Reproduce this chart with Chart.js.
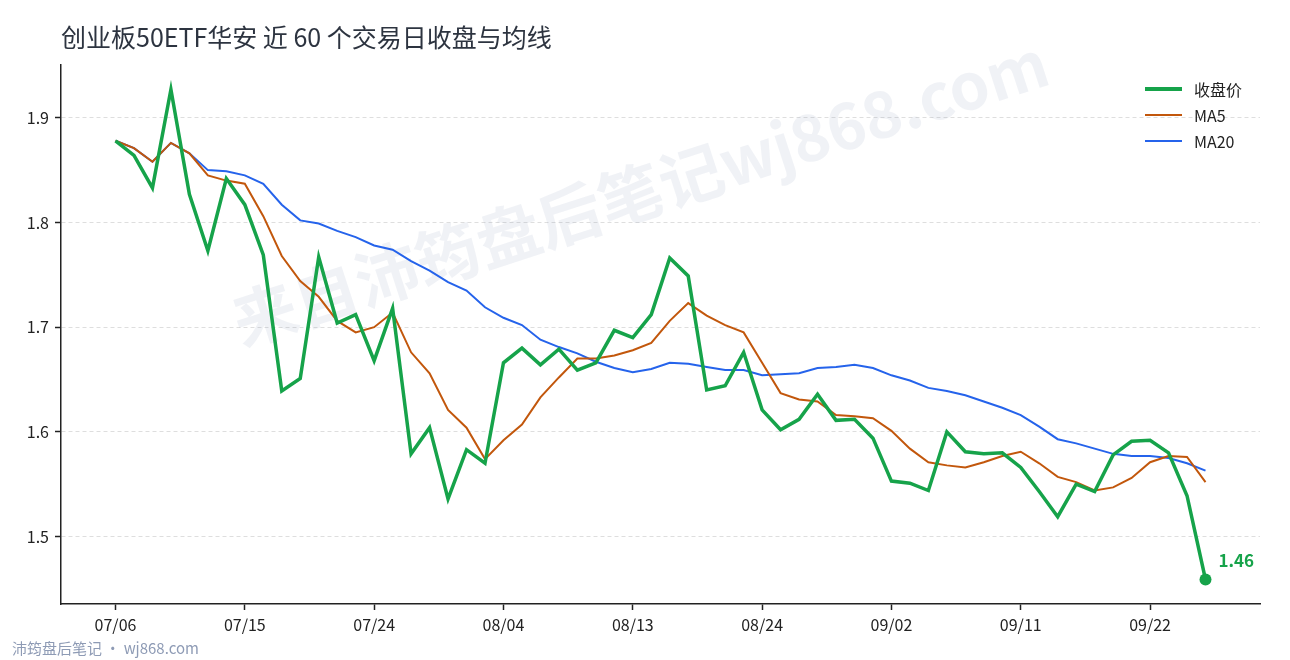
<!DOCTYPE html>
<html>
<head>
<meta charset="utf-8">
<script src="https://cdn.jsdelivr.net/npm/chart.js@4.4.1/dist/chart.umd.min.js"></script>
<style>
  html, body { margin: 0; padding: 0; background: #fff; }
  #wrap { width: 1290px; height: 660px; position: relative; }
</style>
</head>
<body>
<div id="wrap"><canvas id="chart"></canvas></div>
<script>
// trading days (2020)
const dates = [
  '07/06','07/07','07/08','07/09','07/10','07/13','07/14','07/15','07/16','07/17',
  '07/20','07/21','07/22','07/23','07/24','07/27','07/28','07/29','07/30','07/31',
  '08/03','08/04','08/05','08/06','08/07','08/10','08/11','08/12','08/13','08/14',
  '08/17','08/18','08/19','08/20','08/21','08/24','08/25','08/26','08/27','08/28',
  '08/31','09/01','09/02','09/03','09/04','09/07','09/08','09/09','09/10','09/11',
  '09/14','09/15','09/16','09/17','09/18','09/21','09/22','09/23','09/24','09/25'
];

const closes = [
  1.878,1.864,1.833,1.927,1.827,1.773,1.842,1.817,1.769,1.639,
  1.651,1.767,1.704,1.712,1.668,1.718,1.579,1.604,1.536,1.583,
  1.570,1.666,1.680,1.664,1.679,1.659,1.666,1.697,1.690,1.712,
  1.766,1.749,1.640,1.644,1.676,1.621,1.602,1.612,1.636,1.611,
  1.612,1.594,1.553,1.551,1.544,1.600,1.581,1.579,1.580,1.566,
  1.543,1.519,1.550,1.543,1.578,1.591,1.592,1.580,1.539,1.459
];

const ma5 = [
  1.878,1.871,1.858,1.876,1.866,1.845,1.840,1.837,1.806,1.768,
  1.744,1.729,1.706,1.695,1.700,1.714,1.676,1.656,1.621,1.604,
  1.574,1.592,1.607,1.633,1.652,1.670,1.670,1.673,1.678,1.685,
  1.706,1.723,1.711,1.702,1.695,1.666,1.637,1.631,1.629,1.616,
  1.615,1.613,1.601,1.584,1.571,1.568,1.566,1.571,1.577,1.581,
  1.570,1.557,1.552,1.544,1.547,1.556,1.571,1.577,1.576,1.552
];

const ma20 = [
  1.878,1.871,1.858,1.876,1.866,1.850,1.849,1.845,1.837,1.817,
  1.802,1.799,1.792,1.786,1.778,1.774,1.763,1.754,1.743,1.735,
  1.719,1.709,1.702,1.688,1.681,1.675,1.667,1.661,1.657,1.660,
  1.666,1.665,1.662,1.659,1.659,1.654,1.655,1.656,1.661,1.662,
  1.664,1.661,1.654,1.649,1.642,1.639,1.635,1.629,1.623,1.616,
  1.605,1.593,1.589,1.584,1.579,1.577,1.577,1.575,1.570,1.563
];

const yTicks = [1.5, 1.6, 1.7, 1.8, 1.9];
const xTickIdx = [0, 7, 14, 21, 28, 35, 42, 49, 56];

const FONT = "'Noto Sans CJK SC', 'Noto Sans', sans-serif";
const GREEN = '#16a34a';
const ORANGE = '#c2570c';
const BLUE = '#2563eb';

Chart.defaults.font.family = FONT;
Chart.defaults.color = '#222';

const toXY = arr => arr.map((v, i) => ({ x: i, y: v }));
const last = closes.length - 1;

// title, footer, legend, last-value label and watermark
const decorations = {
  id: 'decorations',
  beforeDatasetsDraw(chart) {
    const ctx = chart.ctx;
    ctx.save();
    ctx.translate(640, 192);
    ctx.rotate(-18 * Math.PI / 180);
    ctx.font = 'bold 64px ' + FONT;
    ctx.fillStyle = 'rgba(150, 160, 190, 0.14)';
    ctx.textAlign = 'center';
    ctx.textBaseline = 'middle';
    ctx.fillText('来自沛筠盘后笔记wj868.com', 0, 0);
    ctx.restore();
  },
  afterDraw(chart) {
    const ctx = chart.ctx;
    ctx.save();

    ctx.font = '25px ' + FONT;
    ctx.fillStyle = '#2d3440';
    ctx.textBaseline = 'middle';
    ctx.textAlign = 'left';
    ctx.fillText('创业板50ETF华安 近 60 个交易日收盘与均线', 61, 37);

    ctx.font = '15px ' + FONT;
    ctx.fillStyle = '#8e9bb5';
    ctx.fillText('沛筠盘后笔记 · wj868.com', 12, 648);

    // legend
    ctx.font = '16px ' + FONT;
    chart.data.datasets.forEach((ds, k) => {
      const y = 89 + k * 26;
      ctx.strokeStyle = ds.borderColor;
      ctx.lineWidth = k === 0 ? 4 : 2;
      ctx.beginPath();
      ctx.moveTo(1145, y);
      ctx.lineTo(1182, y);
      ctx.stroke();
      ctx.fillStyle = '#222';
      ctx.fillText(ds.label, 1194, y + 1);
    });

    // last close label
    const xs = chart.scales.x, ys = chart.scales.y;
    const px = xs.getPixelForValue(last), py = ys.getPixelForValue(closes[last]);
    ctx.font = 'bold 17px ' + FONT;
    ctx.fillStyle = GREEN;
    ctx.fillText(closes[last].toFixed(2), px + 13, py - 19);
    ctx.restore();
  }
};

new Chart(document.getElementById('chart'), {
  type: 'line',
  data: {
    datasets: [
      {
        label: '收盘价',
        data: toXY(closes),
        borderColor: GREEN,
        backgroundColor: GREEN,
        borderWidth: 3.5,
        pointRadius: closes.map((v, i) => i === last ? 6 : 0),
        pointBackgroundColor: GREEN,
        pointBorderWidth: 0,
        tension: 0
      },
      {
        label: 'MA5',
        data: toXY(ma5),
        borderColor: ORANGE,
        borderWidth: 2,
        pointRadius: 0,
        tension: 0
      },
      {
        label: 'MA20',
        data: toXY(ma20),
        borderColor: BLUE,
        borderWidth: 2,
        pointRadius: 0,
        tension: 0
      }
    ]
  },
  options: {
    responsive: true,
    maintainAspectRatio: false,
    animation: false,
    layout: { padding: { left: 0, top: 65, right: 30, bottom: 0 } },
    plugins: {
      legend: { display: false },
      tooltip: { enabled: false }
    },
    scales: {
      x: {
        type: 'linear',
        min: -2.95,
        max: 61.95,
        afterBuildTicks: s => { s.ticks = xTickIdx.map(v => ({ value: v })); },
        afterFit: s => { s.height = 56; },
        ticks: {
          autoSkip: false,
          maxRotation: 0,
          padding: 5,
          font: { size: 16 },
          color: '#222',
          callback: v => dates[v]
        },
        grid: {
          drawOnChartArea: false,
          drawTicks: true,
          tickLength: 6,
          tickColor: '#222',
          tickWidth: 1.5
        },
        border: { color: '#222', width: 1.5 }
      },
      y: {
        min: 1.4356,
        max: 1.9504,
        afterBuildTicks: s => { s.ticks = yTicks.map(v => ({ value: v })); },
        afterFit: s => { s.width = 61; },
        ticks: {
          padding: 6,
          font: { size: 16 },
          color: '#222',
          callback: v => Number(v).toFixed(1)
        },
        grid: {
          color: '#dedede',
          lineWidth: 1,
          drawTicks: true,
          tickLength: 6,
          tickColor: '#222',
          tickWidth: 1.5
        },
        border: { color: '#222', width: 1.5, dash: [4, 3] }
      }
    }
  },
  plugins: [decorations]
});
</script>
</body>
</html>
